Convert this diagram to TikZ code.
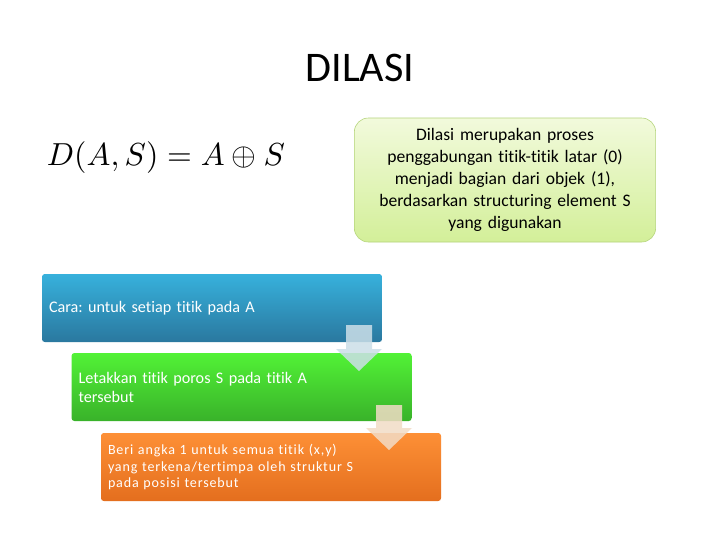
\documentclass[tikz,border=0pt]{standalone}
\usepackage{graphicx}
\usepackage{fontspec}
\setmainfont{Carlito}[Ligatures=NoCommon]
\newfontfamily\widefont{Carlito}[Ligatures=NoCommon, LetterSpace=6]
\usetikzlibrary{positioning}
\frenchspacing
\definecolor{bluetop}{HTML}{37B1DC}
\definecolor{bluebot}{HTML}{2A789F}
\definecolor{greentop}{HTML}{52F236}
\definecolor{greenbot}{HTML}{39B22A}
\definecolor{orangetop}{HTML}{FD9036}
\definecolor{orangebot}{HTML}{E46E1E}
\definecolor{notetop}{HTML}{F2FADC}
\definecolor{notebot}{HTML}{D3EF99}
\definecolor{noteline}{HTML}{B4D47A}
\definecolor{downblue}{HTML}{CCDFE8}
\definecolor{downpeach}{HTML}{F2DCC6}
\tikzset{
  stepbox/.style={rounded corners=2pt, minimum width=8.5cm, minimum height=1.7cm,
    text width=8.15cm, align=left, inner xsep=0.175cm, text=white},
  notebox/.style={rounded corners=10pt, draw=noteline, top color=notetop, bottom color=notebot,
    minimum width=7.5cm, minimum height=3.1cm, text width=7.3cm, align=center,
    font=\fontsize{12.5}{15.6}\selectfont},
  downarrow/.style={fill opacity=0.85}
}
\begin{document}
\begin{tikzpicture}[y=-1cm]
\useasboundingbox (0,0) rectangle (18,13.5);
\fill[white] (0,0) rectangle (18,13.5);
% Title
\node (title) at (9,1.7) {\fontsize{30}{36}\selectfont DILASI};
% Formula
\node (rumus) at (4.15,3.95) {\resizebox{5.95cm}{!}{$D(A,S)=A\oplus S$}};
% Note
\node[notebox] (catatan) at (12.625,4.5) {Dilasi merupakan proses\\penggabungan titik-titik latar (0)\\menjadi bagian dari objek (1),\\berdasarkan structuring element S\\yang digunakan};
% Steps
\node[stepbox, top color=bluetop, bottom color=bluebot, font=\fontsize{11.5}{14}\selectfont] (cara) at (5.3,7.7) {Cara: untuk setiap titik pada A};
\node[stepbox, top color=greentop, bottom color=greenbot, font=\fontsize{11.5}{13.5}\selectfont] (letak) at (6.04,9.675) {Letakkan titik poros S pada titik A\\tersebut};
\node[stepbox, top color=orangetop, bottom color=orangebot, font=\widefont\fontsize{10}{11.8}\selectfont] (beri) at (6.775,11.675) {Beri angka 1 untuk semua titik (x,y)\\yang terkena/tertimpa oleh struktur S\\pada posisi tersebut};
% Arrows
\fill[downarrow, downblue] (8.65,8.125) -- (9.3,8.125) -- (9.3,8.725) -- (9.55,8.725) -- (8.975,9.275) -- (8.4,8.725) -- (8.65,8.725) -- cycle;
\fill[downarrow, downpeach] (9.4,10.125) -- (10.05,10.125) -- (10.05,10.7) -- (10.3,10.7) -- (9.725,11.25) -- (9.15,10.7) -- (9.4,10.7) -- cycle;
\end{tikzpicture}
\end{document}
